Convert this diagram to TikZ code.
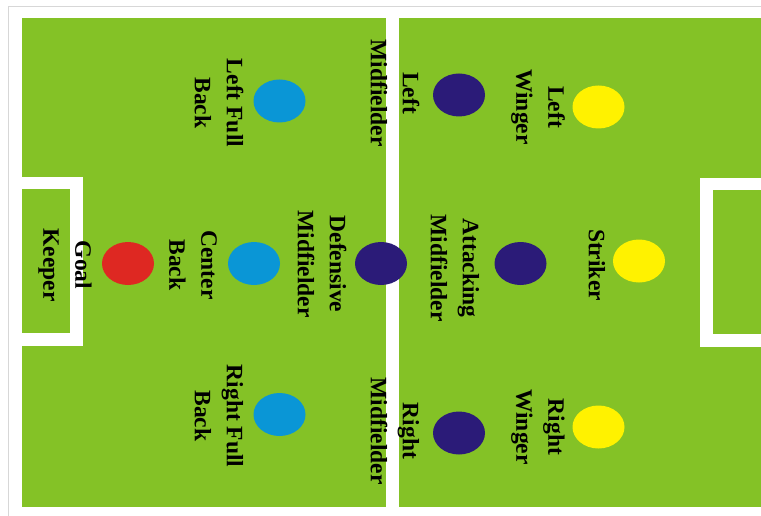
\documentclass[tikz,border=0pt]{standalone}
\usepackage{fontspec}
\setmainfont{Liberation Serif}
\usetikzlibrary{shapes.geometric}
\definecolor{pitch}{RGB}{132,194,38}
\definecolor{defblue}{RGB}{10,150,214}
\definecolor{midnavy}{RGB}{43,27,120}
\definecolor{gkred}{RGB}{222,40,34}
\definecolor{fwdyellow}{RGB}{255,242,0}
\definecolor{framegray}{RGB}{215,215,215}
\tikzset{
  player/.style={ellipse, inner sep=0pt, minimum width=52pt, minimum height=43pt},
  def/.style={player, fill=defblue},
  mid/.style={player, fill=midnavy},
  gk/.style={player, fill=gkred},
  fwd/.style={player, fill=fwdyellow},
  lbl/.style={rotate=-90, align=center, inner sep=0pt,
    font=\fontsize{23.5}{32}\selectfont\bfseries, text=black},
  chalk/.style={fill=white}
}
\begin{document}
\begin{tikzpicture}[x=1pt,y=-1pt]
\useasboundingbox (0,0) rectangle (761,516);
\fill[white] (0,0) rectangle (761,516);
\draw[framegray, line width=1pt] (8,516) -- (8,7) -- (761,7);
% pitch
\fill[pitch] (22,18) rectangle (761,507);
% centre line
\fill[chalk] (386,18) rectangle (399,507);
% left goal box
\fill[chalk] (22,177) rectangle (83,189);
\fill[chalk] (70,177) rectangle (83,346);
\fill[chalk] (22,333) rectangle (83,346);
% right goal box
\fill[chalk] (700,178) rectangle (761,190);
\fill[chalk] (700,178) rectangle (713,347);
\fill[chalk] (700,334) rectangle (761,347);
% players
\node[gk]  (gk)  at (128,263.5) {};
\node[def] (lfb) at (279.5,101) {};
\node[def] (cb)  at (254,263.5) {};
\node[def] (rfb) at (279.5,414.5) {};
\node[mid] (dm)  at (381,263.5) {};
\node[mid] (lm)  at (459,95) {};
\node[mid] (am)  at (520.5,263.5) {};
\node[mid] (rm)  at (459,433) {};
\node[fwd] (lw)  at (598.5,107) {};
\node[fwd] (st)  at (639,261) {};
\node[fwd] (rw)  at (598.5,427) {};
% labels
\node[lbl] (tgk)  at (65,265)  {Goal\\Keeper};
\node[lbl] (tlfb) at (219,103) {Left Full\\Back};
\node[lbl] (tcb)  at (193,265) {Center\\Back};
\node[lbl] (trfb) at (219,416) {Right Full\\Back};
\node[lbl] (tdm)  at (322,264) {Defensive\\Midfielder};
\node[lbl] (tlm)  at (395,93)  {Left\\Midfielder};
\node[lbl] (tam)  at (455,268) {Attacking\\Midfielder};
\node[lbl] (trm)  at (395,431) {Right\\Midfielder};
\node[lbl] (tlw)  at (538,107) {Left\\Winger};
\node[lbl] (tst)  at (597,265) {Striker};
\node[lbl] (trw)  at (538,427) {Right\\Winger};
\end{tikzpicture}
\end{document}
